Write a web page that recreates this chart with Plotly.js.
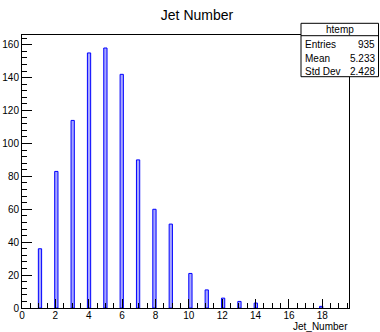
<!DOCTYPE html>
<html><head><meta charset="utf-8">
<script src="https://cdn.plot.ly/plotly-3.0.1.min.js"></script>
<style>body{margin:0;background:#fff}#c{width:380px;height:332px}</style>
</head><body><div id="c"></div>
<script>
// Data
const jetNumbers = [1, 2, 3, 4, 5, 6, 7, 8, 9, 10, 11, 12, 13, 14, 15, 16, 17, 18];
const counts     = [36, 83, 114, 155, 158, 142, 90, 60, 51, 21, 11, 6, 4, 3, 0, 0, 0, 1];
const statNames  = ["Entries", "Mean", "Std Dev"];
const statValues = ["935", "5.233", "2.428"];
const histName = "htemp";
const titleText = "Jet Number";
const xTitle = "Jet_Number";

const FONT = "'Liberation Sans Narrow', 'Liberation Sans', Arial, sans-serif";
const L = 22, R = 349, T = 35, B = 308;
const px = v => (v - L) / (R - L);
const py = v => (B - v) / (B - T);

const trace = {
  type: 'histogram',
  x: jetNumbers, y: counts, histfunc: 'sum',
  xbins: {start: 0, end: 19.6, size: 0.196},
  marker: {color: 'rgba(130,130,255,0.7)', line: {color: '#0000ff', width: 1}},
  hoverinfo: 'skip'
};

const boxX0 = px(301), boxX1 = px(378.5), boxY1 = py(23.3), boxY0 = py(76.7), divY = py(35.7);
const shapes = [
  {type: 'rect', xref: 'paper', yref: 'paper', x0: boxX0, x1: boxX1, y0: boxY0, y1: boxY1,
   fillcolor: '#ffffff', line: {color: '#000', width: 1}, layer: 'above'},
  {type: 'line', xref: 'paper', yref: 'paper', x0: boxX0, x1: boxX1, y0: divY, y1: divY,
   line: {color: '#000', width: 1}, layer: 'above'}
];
const annotations = [
  {text: histName, xref: 'paper', yref: 'paper', x: (boxX0 + boxX1) / 2, y: py(29.5),
   showarrow: false, xanchor: 'center', yanchor: 'middle', font: {family: FONT, size: 10, color: '#000'}},
  {text: xTitle, xref: 'paper', yref: 'paper', x: 1, y: py(332.5), showarrow: false, borderpad: 0,
   xanchor: 'right', yanchor: 'bottom', font: {family: FONT, size: 10, color: '#000'}}
];
const rowY = [45, 58.3, 71.7];
statNames.forEach((n, i) => {
  annotations.push({text: n, xref: 'paper', yref: 'paper', x: px(303), y: py(rowY[i]), showarrow: false,
    xanchor: 'left', yanchor: 'middle', font: {family: FONT, size: 10, color: '#000'}});
  annotations.push({text: statValues[i], xref: 'paper', yref: 'paper', x: px(377), y: py(rowY[i]), showarrow: false,
    xanchor: 'right', yanchor: 'middle', font: {family: FONT, size: 10, color: '#000'}});
});

const layout = {
  width: 380, height: 332,
  margin: {l: L, r: 380 - R, t: T, b: 332 - B, pad: 0},
  paper_bgcolor: '#fff', plot_bgcolor: '#fff',
  showlegend: false,
  bargap: 0,
  title: {text: titleText, x: 197 / 380, xanchor: 'center', y: 1 - 15 / 332, yanchor: 'middle',
          font: {family: FONT, size: 14, color: '#000'}},
  xaxis: {range: [0, 19.6], showgrid: false, zeroline: false, showline: true, linecolor: '#000', linewidth: 1,
          mirror: true, ticks: 'inside', ticklen: 9, tickcolor: '#000', dtick: 2, tick0: 0,
          ticklabelstandoff: -2,
          minor: {dtick: 0.5, ticks: 'inside', ticklen: 5, tickcolor: '#000', showgrid: false},
          tickfont: {family: FONT, size: 10, color: '#000'}, fixedrange: true},
  yaxis: {range: [0, 165.9], showgrid: false, zeroline: false, showline: true, linecolor: '#000', linewidth: 1,
          mirror: true, ticks: 'inside', ticklen: 10, tickcolor: '#000', dtick: 20, tick0: 0,
          minor: {dtick: 4, ticks: 'inside', ticklen: 5, tickcolor: '#000', showgrid: false},
          tickfont: {family: FONT, size: 10, color: '#000'}, fixedrange: true},
  shapes: shapes, annotations: annotations
};

Plotly.newPlot('c', [trace], layout, {displayModeBar: false, staticPlot: true});
</script></body></html>
